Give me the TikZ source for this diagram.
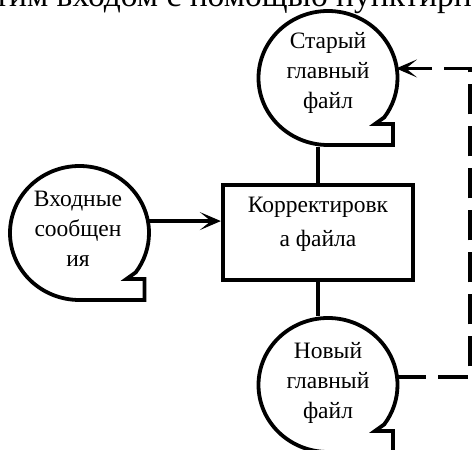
\documentclass[tikz,border=0pt]{standalone}
\usepackage{fontspec}
\setmainfont{Liberation Serif}
\usetikzlibrary{arrows.meta,calc}
\newcommand\tapeoutline[1]{%
  \draw[line width=3.8pt, line join=miter]
    ($(#1.center)+(0,-67)$) arc[start angle=-90, end angle=-396, x radius=69.5, y radius=67]
    -- ($(#1.center)+(47,-46)$) -- ($(#1.center)+(65,-46)$) -- ($(#1.center)+(65,-67)$) -- cycle;}
\begin{document}
\begin{tikzpicture}[x=1pt,y=1pt,
  thickline/.style={line width=3.8pt},
  tape/.style={circle, minimum size=137pt, inner sep=0pt},
  lbl/.style={align=center, font=\fontsize{23.5}{30}\selectfont, inner sep=0pt},
  boxnode/.style={draw, line width=3.8pt, minimum width=190.5pt, minimum height=95.5pt, inner sep=0pt},
  arr/.style={-{Stealth[length=21pt,width=18pt,inset=11pt]}},
  dashline/.style={line width=3.8pt, dash pattern=on 30pt off 12pt}
]
\useasboundingbox (0,0) rectangle (472,450);
\clip (0,0) rectangle (472,450);
% partially visible text line above the diagram
\node[anchor=base west, font=\fontsize{33.5}{40}\selectfont, inner sep=0pt] (top) at (-20,443.5) {этим входом с помощью пунктирной};
% shapes
\node[tape] (T) at (328,372) {};
\node[tape] (L) at (79.5,217) {};
\node[tape] (B) at (328,65) {};
\node[boxnode] (K) at (318,217.5) {};
\tapeoutline{T}
\tapeoutline{L}
\tapeoutline{B}
% labels
\node[lbl] (Tt) at (328,377) {Старый\\главный\\файл};
\node[lbl] (Lt) at (78,221) {Входные\\сообщен\\ия};
\node[lbl] (Bt) at (328,67) {Новый\\главный\\файл};
\node[lbl, font=\fontsize{23.5}{34}\selectfont] (Kt) at (318,226) {Корректировк\\а файла};
% connectors
\coordinate (R) at (470,0);
\draw[thickline] (T.south -| K.north) -- (K.north);
\draw[thickline] (K.south) -- (K.south |- B.north);
\draw[thickline, arr] (L.10) -- (L.10 -| K.west);
\draw[dashline, arr] (B.7) -- (B.7 -| R) -- (R |- T.8) -- (T.8);
\end{tikzpicture}
\end{document}
